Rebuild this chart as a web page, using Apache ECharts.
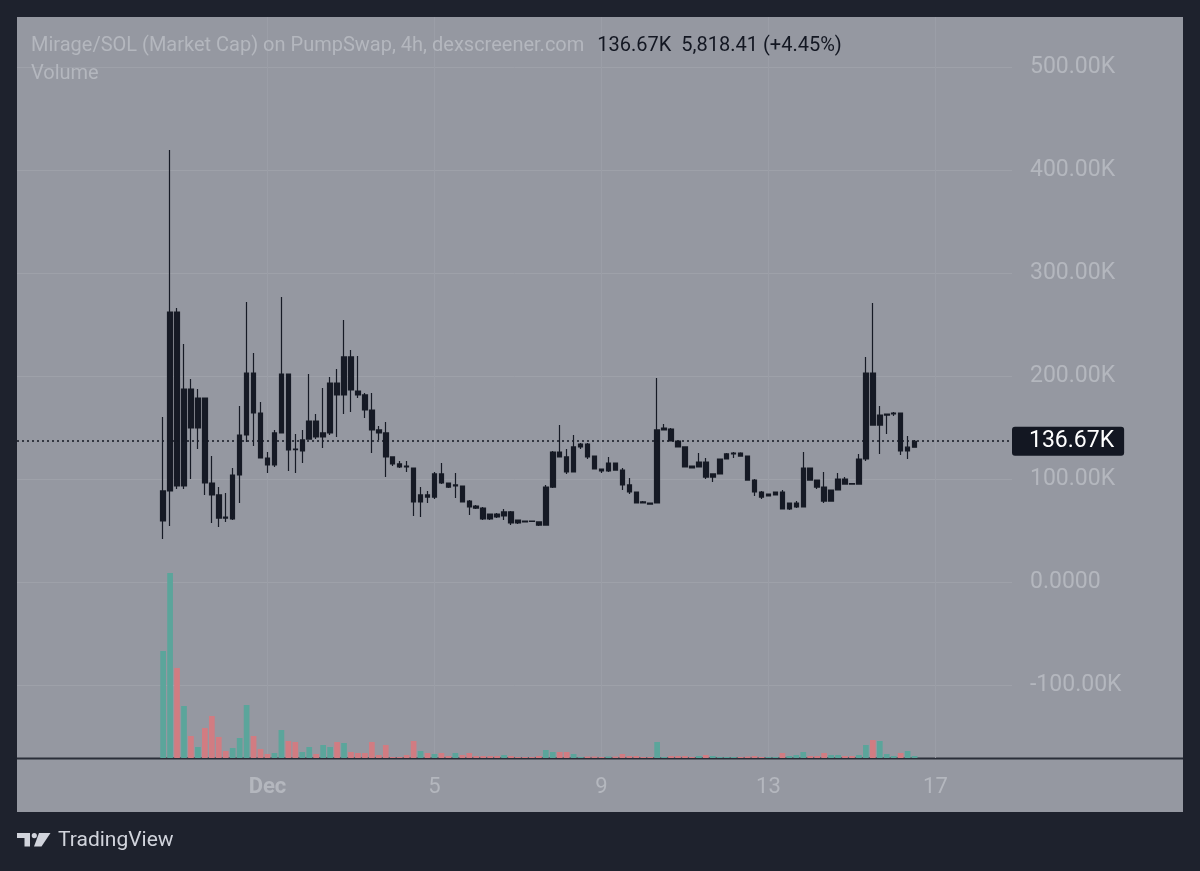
<!DOCTYPE html>
<html><head><meta charset="utf-8">
<script src="https://cdn.jsdelivr.net/npm/echarts@6/dist/echarts.min.js"></script>
<style>html,body{margin:0;padding:0;background:#1e222d}#c{width:1200px;height:871px}</style>
</head><body><div id="c"></div>
<script>
// first candle: Nov 28, 12:00 (4h candles)
const firstCandleTime = Date.UTC(2024, 10, 28, 12);
const stepMs = 4 * 3600 * 1000;
const leadSlots = 21, trailSlots = 14;

// Market cap in K (thousands)
const opens = [59.2,88.4,262.1,93.2,187.4,149.5,178.6,96.1,84.5,63.1,
61.2,103.9,142.7,202.9,164.1,120.4,113.6,144.7,201.9,129.1,
127.2,138.8,156.3,140.8,144.7,193.2,181.6,218.5,185.4,181.6,
167.0,147.6,144.7,121.4,114.6,112.6,110.7,77.7,84.5,82.5,
104.9,96.1,93.2,93.2,78.6,73.8,71.8,66.0,66.0,64.1,
68.0,60.2,59.2,59.2,58.3,55.3,92.2,126.2,121.4,106.8,
131.1,134.0,122.3,109.7,107.8,115.5,108.7,94.2,87.4,77.7,
76.7,76.7,147.6,148.5,136.9,131.1,112.6,111.7,116.5,101.9,
104.9,119.4,124.3,125.2,122.3,99.0,87.4,83.5,84.5,87.4,
70.9,72.8,72.8,110.7,99.0,92.2,78.6,89.3,100.0,95.6,
95.1,119.4,202.9,152.4,162.1,163.1,164.1,127.2,130.85159];
const closes = [88.4,262.1,93.2,187.4,149.5,178.6,96.1,84.5,62.1,62.1,
103.9,142.7,202.9,164.1,120.4,113.6,144.7,201.9,128.2,128.6,
137.9,156.3,140.8,144.7,193.2,181.6,218.5,186.4,181.6,167.0,
147.6,144.7,121.4,114.6,111.7,111.7,77.7,84.5,82.5,104.9,
96.1,92.2,94.2,77.7,72.8,71.8,61.2,61.2,63.1,68.0,
57.3,57.3,58.3,58.8,55.3,92.2,126.2,121.4,106.8,131.1,
134.0,121.4,109.7,107.8,115.5,108.7,94.2,87.4,76.7,76.7,
75.7,147.6,149.5,136.9,131.1,111.7,110.7,116.5,101.9,104.9,
119.4,124.3,125.2,122.3,99.0,87.4,82.5,85.4,87.4,70.9,
76.7,76.7,110.7,99.0,92.2,78.6,89.3,100.0,95.1,95.1,
119.4,202.9,152.4,162.1,163.1,164.1,127.2,130.85159,136.67];
const lows = [41.7,54.4,90.3,90.3,100.0,129.1,84.5,57.3,53.4,58.3,
60.2,76.7,135.9,132.0,120.4,105.8,111.7,144.7,107.8,105.8,
115.5,138.8,138.8,130.1,142.7,140.8,163.1,165.1,178.6,159.2,
125.2,137.9,101.9,112.6,110.7,106.8,64.1,63.1,76.7,80.6,
95.1,91.3,81.6,77.7,65.0,70.9,60.2,60.2,62.1,60.2,
55.3,56.3,58.0,58.3,54.4,55.0,91.3,121.0,104.9,106.5,
129.1,119.4,109.5,105.8,106.8,108.5,89.3,85.4,76.5,76.2,
75.2,76.5,147.4,136.7,130.9,111.5,110.5,111.5,100.0,97.1,
104.7,119.2,120.4,122.1,98.8,83.5,80.6,83.0,84.3,70.7,
69.9,71.8,72.6,98.8,90.3,76.7,78.4,89.1,94.9,94.6,
94.9,117.5,152.2,124.3,143.7,161.2,123.3,119.4,130.6];
const highs = [160.2,419.4,266.0,231.1,197.1,187.4,178.6,122.3,92.2,86.4,
110.7,170.9,271.9,222.3,174.8,126.2,147.6,276.7,201.9,143.7,
147.6,201.9,163.1,188.4,199.0,206.8,254.4,225.2,219.4,183.5,
183.5,151.5,155.3,121.4,117.5,117.5,110.7,92.2,88.4,106.8,
115.5,96.1,105.8,93.2,79.6,74.8,72.8,66.5,67.0,70.9,
68.9,60.2,59.4,59.7,58.5,94.2,127.2,152.4,129.1,142.7,
135.0,135.0,122.5,110.0,121.4,115.7,110.7,101.0,87.6,78.6,
76.9,198.1,153.4,149.5,137.1,131.3,112.8,125.2,120.4,105.1,
119.6,125.2,126.2,126.0,122.5,100.0,88.4,85.6,87.6,89.3,
76.9,78.6,126.2,110.9,99.2,106.8,89.5,105.8,101.9,96.1,
124.3,218.5,270.9,170.9,163.3,165.1,164.3,141.8,137.9];
// Volume in K
const volumes = [214,370,180,104,44,22,60,84,42,14,
20,40,106,44,18,8,10,56,34,32,
12,22,8,26,22,32,30,12,10,10,
32,6,26,2,2,6,34,14,10,8,
10,4,10,6,10,4,4,4,4,6,
4,2,2,2,4,16,12,12,12,8,
2,3,3,2,3,3,8,4,4,2,
2,32,2,4,4,4,2,4,6,4,
2,2,2,2,3,4,2,2,2,10,
4,6,12,4,4,10,6,6,4,4,
6,26,36,34,8,4,10,14,4];
const priceTicks = [-100,0,100,200,300,400,500];
const tickMonth = 11; // December
const tickDays = [1,5,9,13,17];
const monthNames = ['Jan','Feb','Mar','Apr','May','Jun','Jul','Aug','Sep','Oct','Nov','Dec'];

const FONT = 'Roboto, "Noto Sans", sans-serif';
const LABEL = '#b4b7be';
const CANDLE = '#161a25';
const UP = '#5ba59b', DOWN = '#d17c82';

const nSlots = leadSlots + opens.length + trailSlots;
const cats = [], candleData = [], volData = [];
for (let s = 0; s < nSlots; s++) {
  const k = s - leadSlots;
  cats.push(String(firstCandleTime + k * stepMs));
  if (k >= 0 && k < opens.length) {
    candleData.push([opens[k], closes[k], lows[k], highs[k]]);
    volData.push({value: volumes[k], itemStyle: {color: closes[k] >= opens[k] ? UP : DOWN}});
  } else {
    candleData.push('-');
    volData.push('-');
  }
}
function isTick(val) {
  const d = new Date(Number(val));
  return d.getUTCHours() === 0 && d.getUTCMonth() === tickMonth && tickDays.indexOf(d.getUTCDate()) >= 0;
}
function fmtTick(val) {
  const d = new Date(Number(val));
  return d.getUTCDate() === 1 ? '{b|' + monthNames[d.getUTCMonth()] + '}' : String(d.getUTCDate());
}

const last = closes[closes.length - 1], prev = closes[closes.length - 2];
const chg = (last - prev) * 1000;
const pct = (last - prev) / prev * 100;
const chgText = chg.toLocaleString('en-US', {minimumFractionDigits: 2, maximumFractionDigits: 2}) +
  ' (' + (pct >= 0 ? '+' : '') + pct.toFixed(2) + '%)';

const chart = echarts.init(document.getElementById('c'), null, {renderer: 'canvas'});
chart.setOption({
  animation: false,
  backgroundColor: '#9598a1',
  textStyle: {fontFamily: FONT},
  title: [{
    left: 31, top: 36, padding: 0,
    text: '{a|Mirage/SOL (Market Cap) on PumpSwap, 4h, dexscreener.com}{b|' + last.toFixed(2) + 'K}{c|' + chgText + '}',
    textStyle: {fontWeight: 'normal', rich: {
      a: {color: LABEL, fontSize: 20, fontWeight: 'normal', fontFamily: FONT},
      b: {color: '#131722', fontSize: 20, fontWeight: 'normal', fontFamily: FONT, padding: [0, 0, 0, 13]},
      c: {color: '#131722', fontSize: 20, fontWeight: 'normal', fontFamily: FONT, padding: [0, 0, 0, 10]}
    }}
  }, {
    left: 31, top: 64, padding: 0, text: 'Volume',
    textStyle: {color: LABEL, fontSize: 20, fontWeight: 'normal', fontFamily: FONT}
  }],
  grid: [
    {left: 17, right: 188, top: -36, height: 824, outerBoundsMode: 'none', containLabel: false},
    {left: 17, right: 188, top: 17, height: 741, outerBoundsMode: 'none', containLabel: false}
  ],
  xAxis: [
    {type: 'category', gridIndex: 0, data: cats, boundaryGap: false, show: false},
    {type: 'category', gridIndex: 1, data: cats, boundaryGap: false,
     axisLine: {show: false}, axisTick: {show: false},
     axisLabel: {interval: (i, v) => isTick(v), formatter: fmtTick, color: LABEL, fontSize: 22, margin: 18, fontFamily: FONT,
       rich: {b: {fontWeight: 'bold', color: LABEL, fontSize: 22, fontFamily: FONT}}},
     splitLine: {show: true, interval: (i, v) => isTick(v), lineStyle: {color: '#9b9ea7', width: 1}}}
  ],
  yAxis: [
    {type: 'value', gridIndex: 0, position: 'right', min: -200, max: 600, interval: 100,
     axisLine: {show: false}, axisTick: {show: false},
     splitLine: {show: true, showMinLine: false, showMaxLine: false, lineStyle: {color: '#9ea1a9', width: 1}},
     axisLabel: {color: LABEL, fontSize: 23, margin: 18, fontFamily: FONT, showMinLabel: false, showMaxLabel: false,
       padding: [4, 0, 0, 0],
       formatter: v => priceTicks.indexOf(v) < 0 ? '' : (v === 0 ? '0.0000' : v.toFixed(2) + 'K')}},
    {type: 'value', gridIndex: 1, min: 0, max: 1482, show: false, splitLine: {show: false}}
  ],
  series: [
    {type: 'bar', name: 'Volume', xAxisIndex: 1, yAxisIndex: 1, data: volData, barWidth: 5.7, z: 1},
    {type: 'candlestick', name: 'Market Cap', xAxisIndex: 0, yAxisIndex: 0, data: candleData, barWidth: 5,
     itemStyle: {color: CANDLE, color0: CANDLE, borderColor: CANDLE, borderColor0: CANDLE, borderWidth: 1.2},
     markLine: {silent: true, symbol: ['none', 'none'], animation: false,
       data: [{yAxis: last}],
       lineStyle: {color: '#131722', type: [2, 3], width: 1.5},
       label: {position: 'end', distance: 0, formatter: () => last.toFixed(2) + 'K',
         backgroundColor: '#131722', color: '#ffffff', fontSize: 23, fontFamily: FONT,
         padding: [4, 10, 2, 17], borderRadius: 3}}}
  ],
  graphic: [{
    type: 'group', z: 100, children: [
      {type: 'rect', shape: {x: 0, y: 0, width: 1200, height: 17}, style: {fill: '#1e222d'}},
      {type: 'rect', shape: {x: 0, y: 0, width: 17, height: 871}, style: {fill: '#1e222d'}},
      {type: 'rect', shape: {x: 1183, y: 0, width: 17, height: 871}, style: {fill: '#1e222d'}},
      {type: 'rect', shape: {x: 0, y: 812, width: 1200, height: 59}, style: {fill: '#1e222d'}},
      {type: 'line', shape: {x1: 17, y1: 758.5, x2: 1183, y2: 758.5}, style: {stroke: '#2a2e39', lineWidth: 2}},
      {type: 'rect', shape: {x: 17, y: 833, width: 13, height: 5}, style: {fill: '#d1d4dc'}},
      {type: 'rect', shape: {x: 24.5, y: 833, width: 5.5, height: 13.5}, style: {fill: '#d1d4dc'}},
      {type: 'circle', shape: {cx: 34.3, cy: 835.6, r: 2.6}, style: {fill: '#d1d4dc'}},
      {type: 'polygon', shape: {points: [[39, 833], [50.5, 833], [41.5, 846.5], [34, 846.5]]}, style: {fill: '#d1d4dc'}},
      {type: 'text', x: 58, y: 841, style: {text: 'TradingView', fill: '#d1d4dc', font: '21px ' + FONT, textVerticalAlign: 'middle'}}
    ]
  }]
});
</script>
</body></html>
